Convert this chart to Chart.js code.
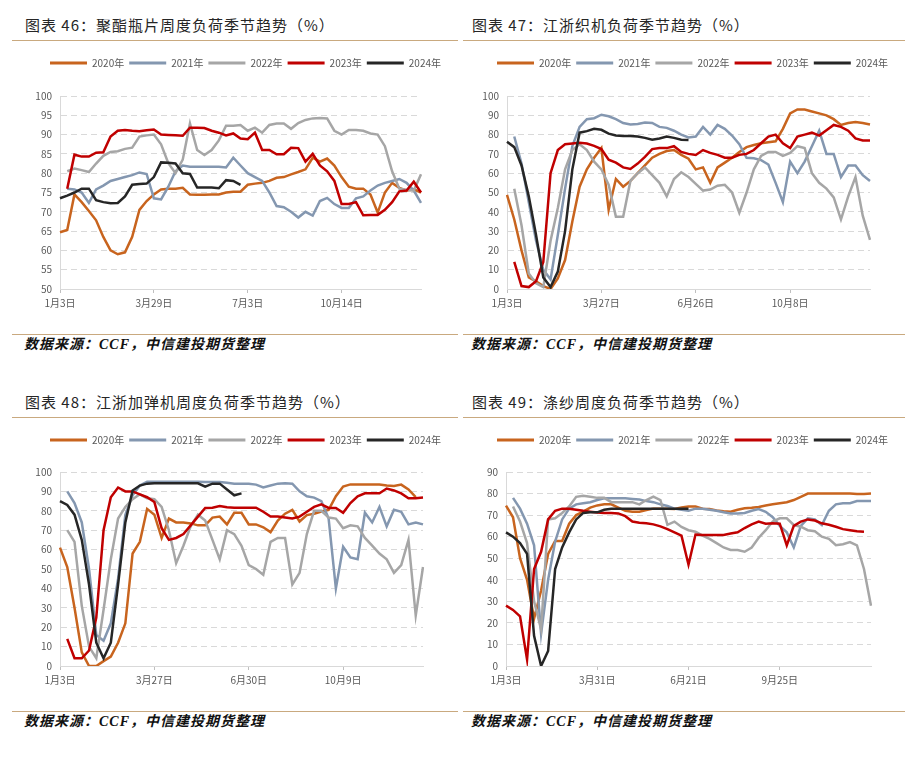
<!DOCTYPE html>
<html lang="zh">
<head>
  <meta charset="UTF-8" />
  <title>负荷季节趋势</title>
  <script src="https://cdn.jsdelivr.net/npm/chart.js"></script>
  <style>
    body { margin: 0; background: #fff; width: 915px; height: 761px; position: relative; overflow: hidden;
           font-family: "Noto Sans CJK SC", sans-serif; }
    .title { position: absolute; font-size: 15px; line-height: 20px; letter-spacing: 1px; color: #262626; white-space: nowrap; }
    .rule { position: absolute; height: 0; border-top: 1px solid #c9a97f; }
    .source { position: absolute; font-family: "Liberation Serif", "Noto Sans CJK SC", serif; font-weight: bold;
              font-style: italic; font-size: 14px; line-height: 20px; letter-spacing: 1px; color: #111; white-space: nowrap; }
    canvas { position: absolute; }
  </style>
</head>
<body>
  <!-- 图表 46 -->
  <div class="title" style="left:25px; top:15px;">图表 46：聚酯瓶片周度负荷季节趋势（%）</div>
  <div class="rule" style="left:12px; width:446px; top:40px;"></div>
  <canvas id="c46" width="446" height="273" style="left:12px; top:40px;"></canvas>
  <div class="rule" style="left:12px; width:446px; top:334px;"></div>
  <div class="source" style="left:24px; top:335px;">数据来源：CCF，中信建投期货整理</div>

  <!-- 图表 47 -->
  <div class="title" style="left:472px; top:15px;">图表 47：江浙织机负荷季节趋势（%）</div>
  <div class="rule" style="left:463px; width:442px; top:40px;"></div>
  <canvas id="c47" width="446" height="273" style="left:459px; top:40px;"></canvas>
  <div class="rule" style="left:463px; width:442px; top:334px;"></div>
  <div class="source" style="left:471px; top:335px;">数据来源：CCF，中信建投期货整理</div>

  <!-- 图表 48 -->
  <div class="title" style="left:25px; top:392px;">图表 48：江浙加弹机周度负荷季节趋势（%）</div>
  <div class="rule" style="left:12px; width:446px; top:417px;"></div>
  <canvas id="c48" width="446" height="273" style="left:12px; top:417px;"></canvas>
  <div class="rule" style="left:12px; width:446px; top:711px;"></div>
  <div class="source" style="left:24px; top:712px;">数据来源：CCF，中信建投期货整理</div>

  <!-- 图表 49 -->
  <div class="title" style="left:472px; top:392px;">图表 49：涤纱周度负荷季节趋势（%）</div>
  <div class="rule" style="left:463px; width:442px; top:417px;"></div>
  <canvas id="c49" width="446" height="273" style="left:459px; top:417px;"></canvas>
  <div class="rule" style="left:463px; width:442px; top:711px;"></div>
  <div class="source" style="left:471px; top:712px;">数据来源：CCF，中信建投期货整理</div>

  <script>
    // series names / colours shared by all four charts
    const years = ["2020年", "2021年", "2022年", "2023年", "2024年"];
    const colors = ["#c8641e", "#8497b0", "#a6a6a6", "#c00000", "#262626"];
    const TICK_EVERY = 13;

    // 图表46 聚酯瓶片 (51 weeks)
    const ticks46 = ["1月3日", "3月29日", "7月3日", "10月14日"];
    const p46_2020 = [64.7,65.3,74.5,72.5,70.2,67.8,63.5,60,59,59.5,63.5,70.5,72.8,74.5,75.8,76,76,76.2,74.5,74.4,74.4,74.5,74.5,75,75.2,75.2,77,77.3,77.5,78,78.8,79,79.7,80.3,81,84,83,83.8,82,79,76.5,76,76,74.5,69.8,75,77.5,76.2,75.5,75.8,75];
    const p46_2021 = [null,76,75.8,75,72.3,75.8,76.8,78,78.5,79,79.5,80.2,79.8,73.5,73.2,76.5,80.5,82,81.7,81.7,81.7,81.7,81.7,81.5,84,82,80,79,78,75,71.5,71.2,70,68.5,70,69,72.8,73.6,72,71,71,73.5,74,75.5,76.8,77.5,78,78.5,77.5,75.5,72.3];
    const p46_2022 = [null,80.5,81.2,80.8,80.3,82.5,84.5,85.5,85.7,86.3,86.6,89.5,89.8,90,87.5,82.6,80,83.5,92.9,86,84.7,86,88.5,92.3,92.3,92.5,91,91.8,90.5,92.5,92.9,92.9,91.5,93,93.8,94.2,94.3,94.2,91,90,91.2,91.2,91,90.3,90,87,80.5,76,75.7,75.5,79.7];
    const p46_2023 = [null,76,84.8,84.3,84.3,85.3,85.4,89.5,91,91.2,91,90.9,91.1,91.3,90,89.9,89.8,89.7,91.8,91.8,91.7,91,90.5,89.8,90.3,89,88.8,90.5,86,86,84.9,84.9,86.6,86.5,83,85,82,80.5,78,72,72,72.5,69.1,69.2,69.2,70.5,72.5,75.3,75.5,77.8,75];
    const p46_2024 = [73.5,74.2,75,76,76,73,72.5,72.2,72.3,74,77,77.2,77.3,79,82.8,82.7,82.5,80,79.8,76.3,76.3,76.3,76.1,78.2,78,77];

    // 图表47 江浙织机 (51 weeks)
    const ticks47 = ["1月3日", "3月27日", "6月26日", "10月8日"];
    const p47_2020 = [48.8,36,20,6,4,1.5,0,5.5,15,35,53,62,68,73,41,57,53,56,60,64,68,70,71.5,72,69.5,67.5,62,63,55,63,65.5,68,71,73.5,74.6,75.5,76,76.5,83,91,93,93,92,91,90,88,85,86,86.5,86,85.2];
    const p47_2021 = [null,79,65,45,25,10,5,28,52,74,84,88,88.5,90.3,89.5,88,86,85.2,85.5,86.3,86,84,83.5,82,80,78.5,79,84,80,85,83,79.5,75,68,67.7,66.8,64.5,55,45,66,60,66,74,82,70,70,58,64,64,59,56];
    const p47_2022 = [null,52,33,8,3,1,25,42,62,72,75,72,66,62,54,37.5,37.5,56,60,63,59,55,48,57,60.5,58,54.5,51,51.5,53.5,54,50,39.5,50,62,69,71,71,69,70.5,74,73,60,55,52,47.5,36,48,58,38,25.5];
    const p47_2023 = [null,14,1.5,1,4,14,60,72,75,75.4,75.8,75.4,74.2,72.5,67,65.5,63,62.2,65,68.5,72.5,73,73,74,71,70,69.4,72,70.5,69.5,68,68,69.5,70,72,75.5,79,80,75.5,73,79,80,81,79.5,82.3,85,84,82,78,77,77];
    const p47_2024 = [76.3,73.5,64,48,28,6,1,9,30,62,81,81.8,83,82.5,80.5,79.5,79.3,79.3,79,78.3,77.3,78,79,78.3,77.3,77.2];

    // 图表48 江浙加弹机 (51 weeks)
    const ticks48 = ["1月3日", "3月27日", "6月30日", "10月9日"];
    const p48_2020 = [61,51,30,7,0,0,2.5,4.8,12,22,58,64,81,78,66,76,74,74,73.5,72.5,72.5,76.5,77,73,79,79,73,73,71.5,69,75,78.5,80.5,74.5,77.8,78.5,79.6,80.5,87.5,92.5,93.6,93.6,93.6,93.6,93.6,93,92.8,93.5,91,87];
    const p48_2021 = [null,90,84,74,50,16,13,22,45,78,88,93,95,95,95,95,95,95,95,95,94.8,94.8,94.8,94.5,94,94,94,93.5,92,93,94,94.2,94,90,87.5,86.8,85,76,40,61.5,56,55,79,74,82,72,80.5,79.5,73,74,73];
    const p48_2022 = [null,70,64,31,10,4,29,55,76,82,86,88.5,86.5,86,82,70,53,62,72,78,75,65,55,70,68,62,52,50,47,64,66,66,42,48,68,80,80,76.5,76,71,72.5,72,66,62,58,55,48,52,65,26,51];
    const p48_2023 = [null,14,4,4,8,25,70,87,92,90,90,88.5,87,84.5,71,65,66,68,72.5,77,81.5,81.6,82.5,81.8,81.6,81.6,81.6,81.6,79.5,77,77,76.5,76,77,79.5,82,83.3,81.5,81.5,79,84,87.5,89,89,89,91.5,90.5,89,86.5,86.5,86.8];
    const p48_2024 = [85,83,78,65,42,12,4,12,42,74,90.5,93,94,94.2,94.2,94.2,94.2,94.2,94.2,94.2,92.5,94,94,91,88,89];

    // 图表49 涤纱 (53 weeks)
    const ticks49 = ["1月3日", "3月31日", "6月21日", "9月25日"];
    const p49_2020 = [74.4,69,50,40,22,35,52,58,58,66,70,71.6,73.5,74.5,75,75,73.5,72,71.6,71.6,72.4,73,73,73,72.8,73.5,74,74,73,72.8,72.2,71.8,71.6,72.5,73.2,73.4,73.8,74.5,75,75.5,76,77,78.5,80,80,80,80,80,80,80,79.8,79.8,80];
    const p49_2021 = [null,78,73,66,56,15,40,57.7,68,73,75,75.5,76,77,77.8,77.8,77.8,77.8,77.5,77.2,76.5,76,75,74.2,73,72.5,72,73,73,72.5,72,71.3,70.8,70.8,71,72,72.8,71.5,69,65,62,55,65,68.5,68,65.4,72,75,75.5,75.5,76.5,76.5,76.5];
    const p49_2022 = [null,74,67,57,30,17,68,68.5,71,74,78.5,79,78.5,78,78,76,76,76,76,75,77,78.6,77,65.5,67,64.5,63,62.3,60.5,59,57,55,53.8,53.8,53,55,59.5,63,67,68.5,68.5,65.4,64.6,63,62.5,60,59,56,56.5,57.5,56,45,28];
    const p49_2023 = [28,26,23,3,45,53,68,72,73,73,72.5,72,71.6,71.2,71,71,70.8,69.5,67,66.5,66.2,65.7,64.8,63.5,62,60.5,47,61,60.8,60.8,60.8,60.8,61.5,62,64,65.7,67,66,66.2,66,56,65,67,68,67.5,66.2,65.5,64.6,63.5,63,62.5,62.3];
    const p49_2024 = [62,60,57,52,14,0,7,45,55,62,68,71,71.3,71.3,72.5,73,73,73,73,73,73,73,73,73,73,73,73];

    const FONT = '"Noto Sans CJK SC", sans-serif';

    function buildLabels(ticks, count) {
      const out = [];
      for (let i = 0; i < count; i++) {
        out.push(i % TICK_EVERY === 0 && ticks[i / TICK_EVERY] ? ticks[i / TICK_EVERY] : "");
      }
      return out;
    }

    // pushes the legend down from the plot and starts it at a fixed x
    function legendPlacer(gap, startX) {
      return {
        id: "legendPlacer",
        beforeInit(chart) {
          const fit = chart.legend.fit;
          chart.legend.fit = function () {
            fit.call(this);
            this.height += gap;
          };
        },
        afterLayout(chart) {
          const pad = chart.legend.options.labels.padding;
          chart.legend.left = startX - pad;
          chart.legend.right = chart.width;
        }
      };
    }

    function makeChart(id, ticks, count, series, yMin, yMax, yStep, box) {
      const datasets = series.map((data, k) => ({
        label: years[k],
        data: data,
        borderColor: colors[k],
        backgroundColor: colors[k],
        borderWidth: 2.5,
        pointRadius: 0,
        tension: 0,
        order: series.length - k
      }));

      new Chart(document.getElementById(id), {
        type: "line",
        data: { labels: buildLabels(ticks, count), datasets: datasets },
        options: {
          responsive: false,
          animation: false,
          layout: { padding: { top: 13, right: box.padRight, left: 0, bottom: 0 } },
          plugins: {
            tooltip: { enabled: false },
            legend: {
              position: "top",
              align: "start",
              labels: {
                boxWidth: 37,
                boxHeight: 3,
                padding: 5,
                color: "#595959",
                font: { size: 10, family: FONT },
                generateLabels: chart => chart.data.datasets.map((ds, i) => ({
                  text: ds.label,
                  fillStyle: ds.borderColor,
                  strokeStyle: ds.borderColor,
                  lineWidth: 0,
                  fontColor: "#595959",
                  hidden: false,
                  datasetIndex: i
                }))
              }
            }
          },
          scales: {
            x: {
              grid: {
                drawOnChartArea: false,
                drawTicks: true,
                tickLength: 4,
                color: c => (c.tick && c.tick.label) ? "#bfbfbf" : "rgba(0,0,0,0)"
              },
              border: { display: true, color: "#d9d9d9" },
              ticks: { autoSkip: false, maxRotation: 0, padding: 4, color: "#595959", font: { size: 10, family: FONT } },
              afterFit: s => { s.height = 24; }
            },
            y: {
              min: yMin,
              max: yMax,
              grid: { color: "#d9d9d9", drawTicks: false },
              border: { display: true, color: "#d9d9d9", dash: [6, 4] },
              ticks: { stepSize: yStep, padding: 8, color: "#595959", font: { size: 10, family: FONT } },
              afterFit: s => { s.width = box.yWidth; }
            }
          }
        },
        plugins: [legendPlacer(box.gap, 38)]
      });
    }

    makeChart("c46", ticks46, 51, [p46_2020, p46_2021, p46_2022, p46_2023, p46_2024], 50, 100, 5,
      { padRight: 37, yWidth: 48, gap: 18 });
    makeChart("c47", ticks47, 51, [p47_2020, p47_2021, p47_2022, p47_2023, p47_2024], 0, 100, 10,
      { padRight: 35, yWidth: 48, gap: 18 });
    makeChart("c48", ticks48, 51, [p48_2020, p48_2021, p48_2022, p48_2023, p48_2024], 0, 100, 10,
      { padRight: 35, yWidth: 48, gap: 17 });
    makeChart("c49", ticks49, 53, [p49_2020, p49_2021, p49_2022, p49_2023, p49_2024], 0, 90, 10,
      { padRight: 34, yWidth: 47, gap: 17 });
  </script>
</body>
</html>
